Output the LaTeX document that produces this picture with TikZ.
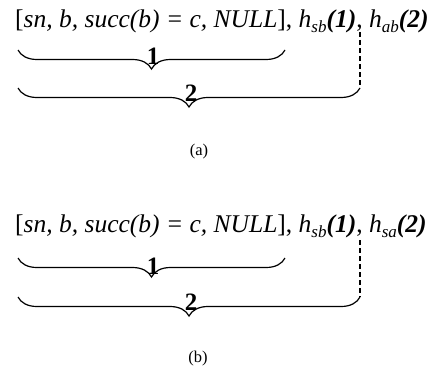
\documentclass[tikz,border=0pt]{standalone}
\usepackage{fontspec}
\setmainfont{Liberation Serif}
\usetikzlibrary{decorations.pathreplacing}
\newcommand{\subs}[1]{\raisebox{-5pt}{\fontsize{17}{17}\selectfont\textit{#1}}}
\tikzset{
  formula/.style={anchor=base west, inner sep=0pt, font=\fontsize{25.5}{30}\selectfont},
  numlabel/.style={anchor=base, inner sep=0pt, font=\fontsize{25}{30}\selectfont\bfseries},
  caption/.style={anchor=base, inner sep=0pt, font=\fontsize{16.5}{20}\selectfont},
  bracepath/.style={line width=1.2pt, decorate, decoration={brace, mirror, amplitude=19pt}},
  guide/.style={line width=1.1pt, dash pattern=on 5pt off 3pt}
}
\begin{document}
\begin{tikzpicture}[x=1pt, y=-1pt]
\useasboundingbox (0,0) rectangle (430,369);
% ---------- panel (a)
\node[formula] (fa) at (15,28) {[\textit{sn, b, succ(b) = c, NULL}], \textit{h}\subs{sb}\textbf{\textit{(1)}}, \textit{h}\subs{ab}\textbf{\textit{(2)}}};
\coordinate (a1l) at (18,50);
\coordinate (a1r) at (285,50);
\coordinate (a2l) at (18,88);
\coordinate (a2r) at (360,88);
\coordinate (adt) at (360,32);
\draw[bracepath] (a1l) -- (a1r);
\draw[bracepath] (a2l) -- (a2r);
\draw[guide] (adt) -- (a2r);
\node[numlabel] (an1) at (153,64) {1};
\node[numlabel] (an2) at (191,101) {2};
\node[caption] (capa) at (199,155) {(a)};
% ---------- panel (b)
\node[formula] (fb) at (15,232) {[\textit{sn, b, succ(b) = c, NULL}], \textit{h}\subs{sb}\textbf{\textit{(1)}}, \textit{h}\subs{sa}\textbf{\textit{(2)}}};
\coordinate (b1l) at (18,258);
\coordinate (b1r) at (285,258);
\coordinate (b2l) at (18,297);
\coordinate (b2r) at (360,297);
\coordinate (bdt) at (360,240);
\draw[bracepath] (b1l) -- (b1r);
\draw[bracepath] (b2l) -- (b2r);
\draw[guide] (bdt) -- (b2r);
\node[numlabel] (bn1) at (153,274) {1};
\node[numlabel] (bn2) at (191,310) {2};
\node[caption] (capb) at (198,362) {(b)};
\end{tikzpicture}
\end{document}
